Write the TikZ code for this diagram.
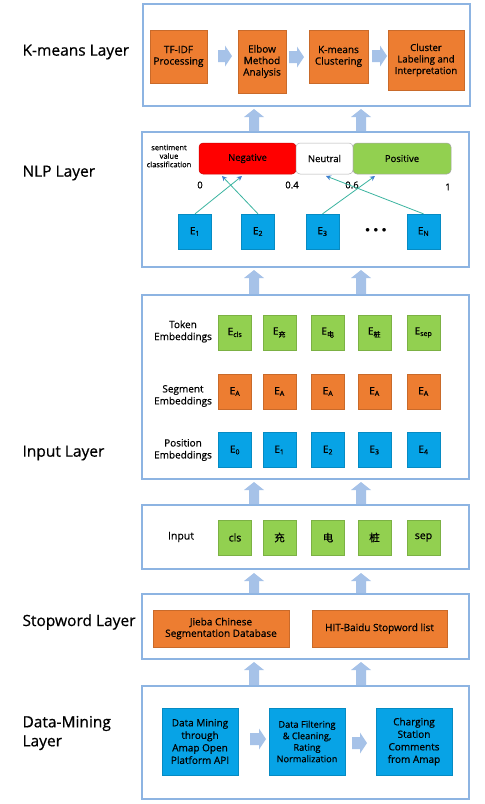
\documentclass[tikz,border=0pt]{standalone}
\usepackage{fontspec}
\setmainfont{Open Sans}[FakeBold=0.6]
\newfontfamily\cjk{Noto Sans CJK SC}[FakeBold=0.4]
\usetikzlibrary{arrows.meta}
\definecolor{corange}{HTML}{ED7D31}
\definecolor{cgreen}{HTML}{92D050}
\definecolor{cblue}{HTML}{07A3E6}
\definecolor{cborder}{HTML}{8DB4E2}
\definecolor{carrow}{HTML}{A6C2E8}
\definecolor{cline}{HTML}{3BB4A0}
\definecolor{ctip}{HTML}{3F7FD0}
\newcommand\rarrow[3]{\fill[carrow] (#1,#3-6) -- (#2-7,#3-6) -- (#2-7,#3-10.5) -- (#2,#3) -- (#2-7,#3+10.5) -- (#2-7,#3+6) -- (#1,#3+6) -- cycle;}
\newcommand\uarrow[3]{\fill[carrow] (#1-5,#3) -- (#1-5,#2+8) -- (#1-10,#2+8) -- (#1,#2) -- (#1+10,#2+8) -- (#1+5,#2+8) -- (#1+5,#3) -- cycle;}
\tikzset{
  layer/.style={draw=cborder, line width=1.3pt, fill=white, inner sep=0pt, minimum width=327pt},
  basebox/.style={inner sep=1pt, align=center, font=\fontsize{10}{11.5}\selectfont},
  obox/.style={basebox, fill=corange, draw=corange!85!black, line width=0.3pt},
  gbox/.style={basebox, fill=cgreen, draw=cgreen!85!black, line width=0.3pt, minimum width=33pt, minimum height=35pt},
  bbox/.style={basebox, fill=cblue, draw=cblue!85!black, line width=0.3pt},
  ebox/.style={bbox, minimum width=33pt, minimum height=35pt},
  eobox/.style={obox, minimum width=33pt, minimum height=35pt},
  layerlabel/.style={anchor=west, align=left, font=\fontsize{15.5}{19}\selectfont},
  rowlabel/.style={align=center, font=\fontsize{10}{12}\selectfont},
  senti/.style={rounded corners=4pt, line width=0.5pt, minimum height=31pt, inner sep=0pt, font=\fontsize{9.5}{11}\selectfont},
  num/.style={font=\fontsize{9.5}{11}\selectfont, inner sep=0pt},
  link/.style={draw=cline, line width=0.8pt, -{Stealth[length=5pt,width=5pt,color=ctip]}}
}
\begin{document}
\begin{tikzpicture}[x=1pt,y=-1pt]
\useasboundingbox (0,0) rectangle (485,804);
\fill[white] (0,0) rectangle (485,804);

% containers
\node[layer, minimum height=102pt] (kml) at (306.5,55) {};
\node[layer, minimum height=135pt] (nlpl) at (305.5,199.5) {};
\node[layer, minimum height=184pt] (inl) at (305.5,387) {};
\node[layer, minimum height=64pt] (inbox) at (305.5,537) {};
\node[layer, minimum height=65pt] (swl) at (305.5,626.5) {};
\node[layer, minimum height=113pt] (dml) at (305.5,742.5) {};

% layer labels
\node[layerlabel] (lkm) at (19,52) {K-means Layer};
\node[layerlabel] (lnlp) at (19,173) {NLP Layer};
\node[layerlabel] (lin) at (19,453) {Input Layer};
\node[layerlabel] (lsw) at (19,622) {Stopword Layer};
\node[layerlabel] (ldm) at (19,733) {Data-Mining\\Layer};

% K-means layer
\node[obox, minimum width=57pt, minimum height=53pt] (tfidf) at (178.5,56.5) {TF-IDF\\Processing};
\node[obox, minimum width=48pt, minimum height=63pt] (elbow) at (262,61.5) {Elbow\\Method\\Analysis};
\node[obox, minimum width=59pt, minimum height=53pt] (kmeans) at (338.5,56.5) {K-means\\Clustering};
\node[obox, minimum width=76pt, minimum height=60pt, font=\fontsize{9.6}{11.5}\selectfont] (cluster) at (426,60) {Cluster\\Labeling and\\Interpretation};
\rarrow{218}{232}{56}
\rarrow{289}{304}{57}
\rarrow{372}{387}{56}

% vertical arrows
\foreach \xa in {254,361}{
  \uarrow{\xa}{109}{131}
  \uarrow{\xa}{270}{294}
  \uarrow{\xa}{482}{504}
  \uarrow{\xa}{573}{593}
  \uarrow{\xa}{662}{685}
}

% NLP layer
\node[align=center, font=\fontsize{7.5}{8.5}\selectfont] (sentlabel) at (169,156) {sentiment\\value\\classification};
\node[senti, fill=red, draw=red!80!black, minimum width=97pt] (neg) at (247.5,158.5) {Negative};
\node[senti, fill=white, draw=gray!60, minimum width=57pt] (neu) at (324.5,158.5) {Neutral};
\node[senti, fill=cgreen, draw=gray!70, minimum width=98pt] (pos) at (402,158.5) {Positive};
\node[num] (n0) at (200,185) {0};
\node[num] (n04) at (292,185) {0.4};
\node[num] (n06) at (352,185) {0.6};
\node[num] (n1) at (448,187) {1};
\node[ebox] (e1) at (195,231.5) {E\textsubscript{1}};
\node[ebox] (e2) at (258,231.5) {E\textsubscript{2}};
\node[ebox] (e3) at (322.5,231.5) {E\textsubscript{3}};
\node[font=\fontsize{9}{9}\selectfont] (dots) at (376,230) {$\bullet\,\bullet\,\bullet$};
\node[ebox] (en) at (423.5,231.5) {E\textsubscript{N}};
\coordinate (t1) at (242,176);
\coordinate (t2) at (222,176);
\coordinate (t3) at (375,176);
\coordinate (tn) at (326,176);
\draw[link] (e1.north) -- (t1);
\draw[link] (e2.north) -- (t2);
\draw[link] (e3.north) -- (t3);
\draw[link] (en.north) -- (tn);

% Input layer
\node[rowlabel] (ltok) at (183,331.5) {Token\\Embeddings};
\node[rowlabel] (lseg) at (183,396) {Segment\\Embeddings};
\node[rowlabel] (lpos) at (183,450) {Position\\Embeddings};
\node[gbox] (tk1) at (235,332.5) {E\textsubscript{cls}};
\node[gbox] (tk2) at (279.5,332.5) {E\textsubscript{\cjk 充}};
\node[gbox] (tk3) at (328,332.5) {E\textsubscript{\cjk 电}};
\node[gbox] (tk4) at (374.5,332.5) {E\textsubscript{\cjk 桩}};
\node[gbox] (tk5) at (423.5,332.5) {E\textsubscript{sep}};
\node[eobox] (sg1) at (235,391.5) {E\textsubscript{A}};
\node[eobox] (sg2) at (279.5,391.5) {E\textsubscript{A}};
\node[eobox] (sg3) at (328,391.5) {E\textsubscript{A}};
\node[eobox] (sg4) at (374.5,391.5) {E\textsubscript{A}};
\node[eobox] (sg5) at (423.5,391.5) {E\textsubscript{A}};
\node[ebox] (ps1) at (235,450) {E\textsubscript{0}};
\node[ebox] (ps2) at (279.5,450) {E\textsubscript{1}};
\node[ebox] (ps3) at (328,450) {E\textsubscript{2}};
\node[ebox] (ps4) at (374.5,450) {E\textsubscript{3}};
\node[ebox] (ps5) at (423.5,450) {E\textsubscript{4}};

% Input box
\node[rowlabel, font=\fontsize{10.5}{12}\selectfont] (linput) at (181,537) {Input};
\node[gbox, font=\fontsize{10.5}{12}\selectfont] (in1) at (235,537.5) {cls};
\node[gbox, font=\fontsize{10.5}{12}\selectfont] (in2) at (279.5,537.5) {\cjk 充};
\node[gbox, font=\fontsize{10.5}{12}\selectfont] (in3) at (328,537.5) {\cjk 电};
\node[gbox, font=\fontsize{10.5}{12}\selectfont] (in4) at (374.5,537.5) {\cjk 桩};
\node[gbox, font=\fontsize{10.5}{12}\selectfont] (in5) at (423.5,537.5) {sep};

% Stopword layer
\node[obox, minimum width=136pt, minimum height=37pt] (jieba) at (221,628.5) {Jieba Chinese\\Segmentation Database};
\node[obox, minimum width=135pt, minimum height=37pt] (hit) at (379.5,628.5) {HIT-Baidu Stopword list};

% Data-mining layer
\node[bbox, minimum width=76pt, minimum height=67pt, font=\fontsize{10}{12.5}\selectfont] (dm1) at (200,741.5) {Data Mining\\through\\Amap Open\\Platform API};
\node[bbox, minimum width=76pt, minimum height=67pt, font=\fontsize{9.2}{11.5}\selectfont] (dm2) at (307,741.5) {Data Filtering\\\& Cleaning,\\Rating\\Normalization};
\node[bbox, minimum width=76pt, minimum height=67pt, font=\fontsize{10}{12.5}\selectfont] (dm3) at (414,741.5) {Charging\\Station\\Comments\\from Amap};
\rarrow{250}{266}{739}
\rarrow{352}{367}{743}
\end{tikzpicture}
\end{document}
